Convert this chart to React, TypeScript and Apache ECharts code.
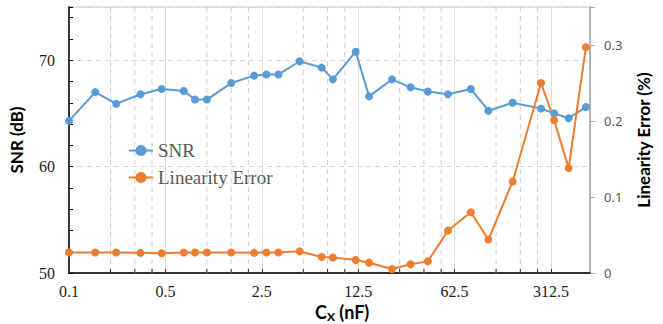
import { useEffect, useRef } from 'react';
import * as echarts from 'echarts';

const cxValues = [0.1, 0.155, 0.22, 0.33, 0.47, 0.68, 0.82, 1.0, 1.5, 2.2, 2.7, 3.3, 4.7, 6.8, 8.2, 12, 15, 22, 30, 40, 56, 82, 110, 165, 265, 330, 420, 560];
const snrValues = [64.3, 67.0, 65.9, 66.8, 67.3, 67.1, 66.3, 66.3, 67.85, 68.55, 68.65, 68.65, 69.9, 69.3, 68.2, 70.8, 66.6, 68.2, 67.45, 67.05, 66.8, 67.3, 65.25, 66.0, 65.45, 65.0, 64.55, 65.6];
const linearityErrorValues = [0.027, 0.027, 0.027, 0.0265, 0.026, 0.027, 0.027, 0.027, 0.027, 0.0265, 0.027, 0.027, 0.0285, 0.021, 0.0205, 0.017, 0.0136, 0.0053, 0.0114, 0.0153, 0.0558, 0.08, 0.044, 0.1205, 0.25, 0.201, 0.138, 0.297];
const xTickLabels = ['0.1', '0.5', '2.5', '12.5', '62.5', '312.5'];
const xMinorGrid = [0.2, 0.3, 0.4, 1, 1.5, 2, 5, 7.5, 10, 25, 37.5, 50, 125, 187.5, 250];
const xMin = 0.1;
const xMax = 600;

const toAxis = (v: number) => Math.log(v / xMin) / Math.log(5);

export default function App() {
  const ref = useRef<HTMLDivElement>(null);
  useEffect(() => {
    const chart = echarts.init(ref.current!, null, { renderer: 'svg' });
    const serif = 'Liberation Serif';
    chart.setOption({
      animation: false,
      backgroundColor: '#ffffff',
      grid: { left: 67, right: 73, top: 7, bottom: 51, show: true, borderColor: '#c8c8c8', borderWidth: 1 },
      legend: {
        orient: 'vertical',
        left: 128,
        top: 141,
        padding: 0,
        itemWidth: 24,
        itemHeight: 14,
        itemGap: 8,
        data: ['SNR', 'Linearity Error'],
        textStyle: { fontFamily: serif, fontSize: 19, color: '#595959' },
      },
      xAxis: {
        type: 'value',
        min: 0,
        max: toAxis(xMax),
        interval: 1,
        axisLine: { lineStyle: { color: '#333333', width: 2 } },
        axisTick: { inside: true, length: 4, lineStyle: { color: '#333333' } },
        axisLabel: {
          margin: 10,
          fontFamily: serif,
          fontSize: 16,
          color: '#222222',
          showMaxLabel: false,
          formatter: (v: number) => {
            const r = Math.round(v);
            return Math.abs(v - r) < 1e-6 ? xTickLabels[r] ?? '' : '';
          },
        },
        splitLine: { show: true, lineStyle: { color: '#dcdcdc', width: 1 } },
      },
      yAxis: [
        {
          type: 'value',
          min: 50,
          max: 75,
          interval: 10,
          position: 'left',
          name: 'SNR (dB)',
          nameLocation: 'middle',
          nameGap: 44,
          nameRotate: 90,
          nameTextStyle: { fontFamily: 'Lato', fontWeight: 'bold', fontSize: 17, color: '#000000' },
          axisLine: { show: true, lineStyle: { color: '#000000', width: 1.5 } },
          axisTick: { show: false },
          axisLabel: {
            margin: 14,
            fontFamily: serif,
            fontSize: 16,
            color: '#222222',
            formatter: (v: number) => (Math.abs(v % 10) < 1e-6 ? String(v) : ''),
          },
          splitLine: { show: true, lineStyle: { color: '#d6d6d6', type: [5, 4], width: 1 } },
        },
        {
          type: 'value',
          min: 0,
          max: 0.35,
          interval: 0.1,
          position: 'right',
          name: 'Linearity Error (%)',
          nameLocation: 'middle',
          nameGap: 45,
          nameRotate: 90,
          nameTextStyle: { fontFamily: 'Lato', fontWeight: 'bold', fontSize: 17, color: '#000000' },
          axisLine: { show: true, lineStyle: { color: '#a6a6a6', width: 1.5 } },
          axisTick: { show: true, inside: false, length: 5, lineStyle: { color: '#a6a6a6' } },
          axisLabel: {
            margin: 14,
            fontFamily: 'Noto Sans',
            fontSize: 13,
            color: '#595959',
            formatter: (v: number) => {
              const r = Math.round(v * 10) / 10;
              if (Math.abs(v - r) > 1e-6) return '';
              return r === 0 ? '0' : r.toFixed(1);
            },
          },
          splitLine: { show: false },
        },
        {
          type: 'value',
          min: 50,
          max: 75,
          interval: 2,
          position: 'left',
          axisLine: { show: false },
          axisTick: { show: true, inside: true, length: 4, lineStyle: { color: '#000000' } },
          axisLabel: { show: false },
          splitLine: { show: false },
        },
      ],
      graphic: [
        {
          type: 'text',
          left: 315,
          top: 303,
          style: {
            text: '{a|C}{b|X}{a| (nF)}',
            rich: {
              a: { fontFamily: 'Lato', fontWeight: 'bold', fontSize: 18, lineHeight: 20, fill: '#000000' },
              b: { fontFamily: 'Lato', fontWeight: 'bold', fontSize: 12, lineHeight: 20, fill: '#000000', verticalAlign: 'bottom', padding: [6, 0, 0, 0] },
            },
          },
        },
      ],
      series: [
        {
          type: 'custom',
          xAxisIndex: 0,
          yAxisIndex: 0,
          silent: true,
          z: 1,
          data: xMinorGrid.map((v) => [toAxis(v), 50]),
          encode: { x: 0, y: 1 },
          renderItem: (params: any, api: any) => {
            const cs = params.coordSys;
            const x = api.coord([api.value(0), 50])[0];
            return {
              type: 'group',
              children: [
                { type: 'line', shape: { x1: x, y1: cs.y, x2: x, y2: cs.y + cs.height }, style: { stroke: '#d0d0d0', lineWidth: 1, lineDash: [5, 4] } },
                { type: 'line', shape: { x1: x, y1: cs.y + cs.height - 4, x2: x, y2: cs.y + cs.height }, style: { stroke: '#333333', lineWidth: 1 } },
              ],
            };
          },
        },
        {
          name: 'SNR',
          type: 'line',
          xAxisIndex: 0,
          yAxisIndex: 0,
          z: 3,
          symbol: 'circle',
          symbolSize: 8,
          itemStyle: { color: '#5b9bd5' },
          lineStyle: { color: '#5b9bd5', width: 2 },
          data: cxValues.map((c, i) => [toAxis(c), snrValues[i]]),
        },
        {
          name: 'Linearity Error',
          type: 'line',
          xAxisIndex: 0,
          yAxisIndex: 1,
          z: 3,
          symbol: 'circle',
          symbolSize: 8,
          itemStyle: { color: '#ed7d31' },
          lineStyle: { color: '#ed7d31', width: 2 },
          data: cxValues.map((c, i) => [toAxis(c), linearityErrorValues[i]]),
        },
      ],
    });
    return () => chart.dispose();
  }, []);
  return <div ref={ref} style={{ position: 'fixed', left: 0, top: 0, width: 663, height: 324 }} />;
}
